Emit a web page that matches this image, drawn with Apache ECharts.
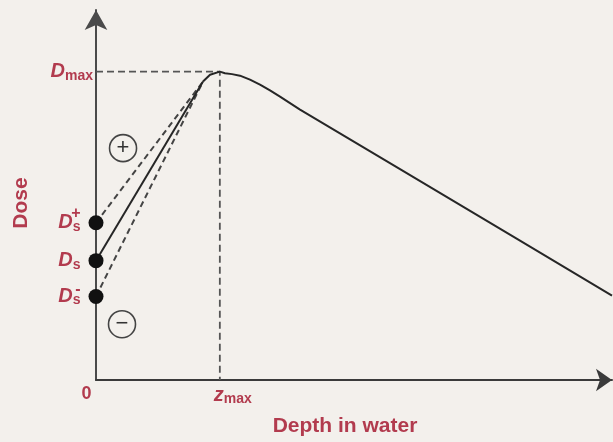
<!DOCTYPE html>
<html>
<head>
<meta charset="utf-8">
<script src="https://cdn.jsdelivr.net/npm/echarts@6/dist/echarts.min.js"></script>
<style>
  html, body { margin: 0; padding: 0; background: #f3f0ec; }
  #chart { width: 613px; height: 442px; }
</style>
</head>
<body>
<div id="chart"></div>
<script>
// Depth-dose schematic: build-up region, maximum and fall-off.
const RED = '#b23b4e';
const FONT = '"Liberation Sans", Arial, sans-serif';

// Axis ranges (depth in mm, dose in % of the maximum)
const depthMax = 50;
const doseMax = 120;

// Reference levels
const zMax = 12;
const dMax = 100;
const surfaceDose = [51, 38.7, 27.1];      // D_s+, D_s, D_s-
const surfaceSup = ['+', '', '-'];

// Point where the build-up lines meet just below the maximum
const meet = [10.37, 96.8];

// Curve from the meeting point over the maximum and down the fall-off
const fallDepth = [10.37, 11.05, 12, 12.5, 13.18, 13.95, 14.92, 15.89, 16.86, 17.83, 19.77, 29.46, 40.8, 50];
const fallDose  = [96.8, 99.0, 100, 99.5, 99.2, 98.7, 97.4, 95.8, 93.9, 91.9, 87.7, 68.4, 45.8, 27.4];

// Circled signs marking the over / under response
const signDepth = [2.62, 2.52];
const signDose = [75.2, 18.1];
const signText = ['+', '\u2212'];

const chart = echarts.init(document.getElementById('chart'), null, { renderer: 'canvas' });

const subStyle = { fontSize: 14, fontWeight: 'bold', color: RED, fontFamily: FONT, verticalAlign: 'bottom', lineHeight: 14 };
const bigD = { fontSize: 20, fontWeight: 'bold', fontStyle: 'italic', color: RED, fontFamily: FONT, lineHeight: 22 };

const guide = { color: '#555', width: 1.8, type: [7, 4] };
const dashed = { color: '#444', width: 2, type: [6, 4] };
const solid = { color: '#262626', width: 2 };

chart.setOption({
  backgroundColor: '#f3f0ec',
  animation: false,
  grid: { left: 96, right: 1, top: 10, bottom: 60 },
  xAxis: {
    type: 'value', min: 0, max: depthMax,
    name: 'Depth in water', nameLocation: 'middle', nameGap: 36,
    nameTextStyle: { color: RED, fontSize: 21, fontWeight: 'bold', fontFamily: FONT, padding: [0, 18, 0, 0] },
    axisLine: { show: true, symbol: ['none', 'arrow'], symbolSize: [17, 16],
      lineStyle: { color: '#3a3a3a', width: 2 } },
    axisTick: { show: false },
    splitLine: { show: false },
    axisLabel: {
      customValues: [0, zMax], margin: 4,
      formatter: v => v === 0 ? '{n|0}' : '{z|z}{m|max}',
      rich: {
        n: { fontSize: 18, fontWeight: 'bold', color: RED, fontFamily: FONT, padding: [0, 19, 0, 0], lineHeight: 20 },
        z: { fontSize: 20, fontWeight: 'bold', fontStyle: 'italic', color: RED, fontFamily: FONT, padding: [0, 0, 0, 26], lineHeight: 22 },
        m: subStyle
      }
    }
  },
  yAxis: {
    type: 'value', min: 0, max: doseMax,
    name: 'Dose', nameLocation: 'middle', nameGap: 64, nameRotate: 90,
    nameTextStyle: { color: RED, fontSize: 21, fontWeight: 'bold', fontFamily: FONT, padding: [0, 16, 0, 0] },
    axisLine: { show: true, symbol: ['none', 'arrow'], symbolSize: [17, 20],
      lineStyle: { color: '#4a4a4a', width: 2 } },
    axisTick: { show: false },
    splitLine: { show: false },
    axisLabel: {
      customValues: [dMax], margin: 3,
      formatter: () => '{D|D}{m|max}',
      rich: { D: bigD, m: subStyle }
    }
  },
  series: [
    {
      name: 'guide', type: 'line', symbol: 'none', silent: true, z: 1,
      data: [[0, dMax], [zMax, dMax], [zMax, 0]],
      lineStyle: guide
    },
    {
      name: 'build-up upper', type: 'line', symbol: 'none', z: 2,
      data: [[0, surfaceDose[0]], meet], lineStyle: dashed
    },
    {
      name: 'build-up lower', type: 'line', symbol: 'none', z: 2,
      data: [[0, surfaceDose[2]], meet], lineStyle: dashed
    },
    {
      name: 'build-up', type: 'line', symbol: 'none', z: 3,
      data: [[0, surfaceDose[1]], meet], lineStyle: solid
    },
    {
      name: 'fall-off', type: 'line', symbol: 'none', z: 3,
      data: fallDepth.map((d, i) => [d, fallDose[i]]), lineStyle: solid
    },
    {
      name: 'surface dose', type: 'scatter', symbol: 'circle', symbolSize: 15, z: 5,
      itemStyle: { color: '#111', opacity: 1 },
      data: surfaceDose.map(v => [0, v]),
      label: {
        show: true, position: 'left', distance: 8,
        formatter: '{D|D}{s|s}',
        rich: {
          D: bigD,
          s: { fontSize: 14, fontWeight: 'bold', color: RED, fontFamily: FONT, verticalAlign: 'bottom', lineHeight: 15 }
        }
      }
    },
    {
      name: 'surface dose sign', type: 'scatter', symbol: 'circle', symbolSize: 1, z: 6,
      itemStyle: { color: 'rgba(0,0,0,0)', opacity: 1 },
      data: surfaceDose
        .map((v, i) => ({ value: [0, v], sup: surfaceSup[i], up: i === 0 ? -9 : -7 }))
        .filter(d => d.sup !== '')
        .map(d => ({ value: d.value, label: { formatter: d.sup, offset: [0, d.up] } })),
      label: {
        show: true, position: 'left', distance: 15,
        color: RED, fontSize: 16, fontWeight: 'bold', fontFamily: FONT
      }
    },
    {
      name: 'response sign', type: 'scatter', symbol: 'circle', symbolSize: 27, z: 4,
      itemStyle: { color: 'rgba(0,0,0,0)', borderColor: '#444', borderWidth: 1.6, opacity: 1 },
      data: signDepth.map((d, i) => ({ value: [d, signDose[i]], label: { formatter: signText[i] } })),
      label: { show: true, position: 'inside', color: '#333', fontSize: 22, fontFamily: FONT }
    }
  ]
});
</script>
</body>
</html>
